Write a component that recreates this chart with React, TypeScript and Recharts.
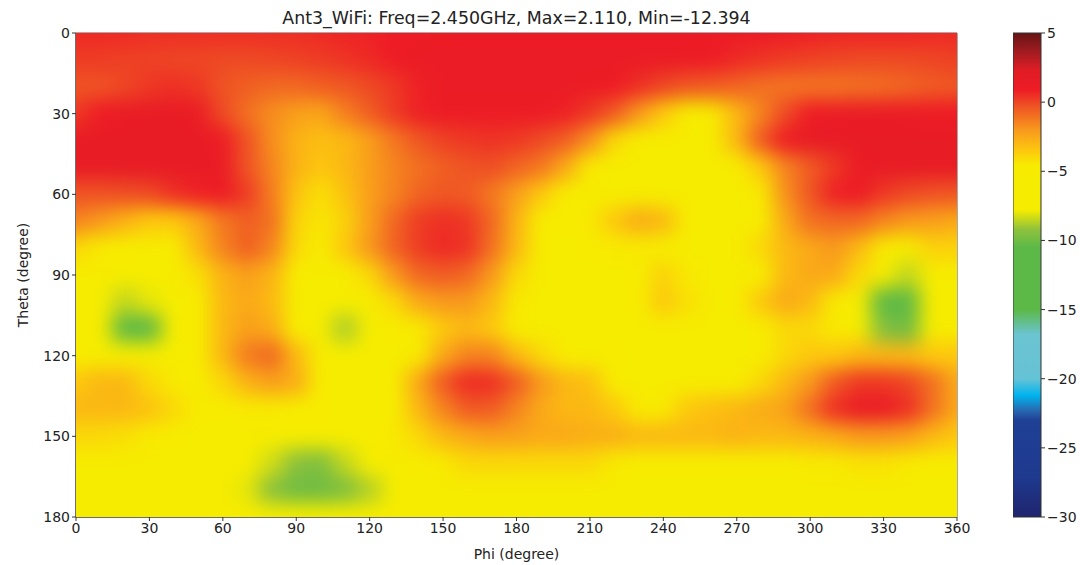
import { ScatterChart, Scatter, XAxis, YAxis, ReferenceArea, BarChart, Bar } from 'recharts';

const phiTicks = [0, 30, 60, 90, 120, 150, 180, 210, 240, 270, 300, 330, 360];
const thetaTicks = [0, 30, 60, 90, 120, 150, 180];
const colorbarTicks = [-30, -25, -20, -15, -10, -5, 0, 5];

// gain in dB, one row per theta (0..180 in 10 degree steps), one value per phi (0..360 in 10 degree steps)
const gainRows = [
  [.6, .6, .6, .5, .5, .5, .5, .5, .5, .5, .6, .7, .8, .9, 1, 1.1, 1.2, 1.2, 1.2, 1.2, 1.2, 1.2, 1.2, 1.2, 1.2, 1.2, 1.2, 1.1, 1, .9, .8, .7, .7, .7, .7, .6, .6],
  [.2, .2, .1, .1, 0, 0, -.1, -.1, 0, .1, .2, .4, .6, .9, 1.2, 1.2, 1.2, 1.2, 1.2, 1.2, 1.2, 1.2, 1.2, 1.2, 1.2, 1.1, .9, .6, .4, .2, .1, 0, -.1, -.1, -.1, 0, .1],
  [-.3, -.3, 0, .3, .5, .3, -.3, -.6, -.8, -.8, -.6, -.4, -.1, .3, .8, 1.2, 1.2, 1.2, 1.2, 1.2, 1.2, 1.1, .9, .5, 0, -.4, -.5, -.7, -1, -1.1, -1.1, -1.1, -1, -.9, -.7, -.5, -.4],
  [.3, .9, 1.3, 1.5, 1.5, 1.2, -.1, -1, -1.7, -2.2, -2.4, -1.4, -.6, .2, .8, 1, 1, 1, 1, 1, .8, .3, -.5, -2, -3.5, -4.8, -4.5, -3, -1.5, -.1, .9, 1.2, 1.3, 1.3, 1.2, 1, .9],
  [1.5, 1.5, 1.5, 1.5, 1.5, 1.5, 1, -.3, -1.7, -2.8, -3.2, -3, -2.2, -1.2, -.4, .1, .3, .4, .3, -.1, -.6, -1.8, -4, -5.5, -6, -6, -5.5, -3, -.5, 1, 1.5, 1.5, 1.5, 1.5, 1.5, 1.5, 1.5],
  [1.5, 1.5, 1.5, 1.5, 1.5, 1.5, 1.2, -.3, -1.5, -2.8, -3.4, -3, -2.2, -1.5, -1, -.6, -.3, -.2, -.7, -1.2, -2.5, -4.5, -5.5, -6, -6, -6, -6, -5.5, -3.5, -1.5, -.5, .3, 1.2, 1.5, 1.5, 1.5, 1.5],
  [-.3, -.3, -.2, -.1, .5, .8, 1, .2, -1.3, -3.3, -4.2, -3.3, -2.2, -1.5, -.7, -.4, -.5, -1.2, -2.2, -3.5, -4.8, -5.5, -5.5, -5.5, -5.5, -5.5, -5.5, -5.5, -4.5, -1.8, -.4, .8, 1, .3, -.1, -.3, -.4],
  [-1.5, -2, -2.8, -3.5, -3.5, -2.5, -1.2, -.6, -1, -3.8, -4.4, -3.8, -2.2, -.8, .2, .5, .3, -.8, -2.8, -4.8, -5.2, -4.5, -3.5, -2.6, -3, -5, -5.5, -5.5, -5, -2.5, -1, -.8, -.8, -1.5, -2, -2.2, -2.5],
  [-4, -4.5, -5.2, -5.5, -5, -3, -1.5, -.6, -1.5, -4, -4.8, -3.5, -2, -.7, .2, .6, .4, -1, -3, -5, -5.5, -5, -4.5, -4.5, -5.5, -5.5, -5.5, -5.5, -4, -3, -2.5, -2, -3, -4.5, -4.8, -3.8, -3.8],
  [-5.5, -5.5, -6, -6, -6, -4.2, -2.8, -2.2, -2.8, -5, -6, -5.5, -4, -2, -.8, -.5, -.8, -2, -4, -5.5, -6, -5.5, -5.5, -4.8, -3.8, -4.5, -5.5, -6, -5, -3, -2.5, -2.5, -4, -7.5, -8.5, -6, -5.5],
  [-6, -6, -8.5, -8, -6, -5, -3, -2.5, -3, -5.5, -6.5, -7, -6, -4, -2.5, -2, -2, -3, -4.5, -5.5, -6, -6, -6, -5, -3.5, -4.2, -5.5, -5, -3.5, -2.5, -3, -4.5, -5.5, -12, -12.4, -7, -6],
  [-6, -7, -12, -12.4, -6.5, -5.2, -3, -2.2, -2.6, -5, -6.5, -8.8, -6, -5, -4.5, -3.5, -3, -3.5, -5, -5.5, -6, -6, -6, -6, -6, -6, -6, -6, -5, -4, -4, -4.5, -6, -9.5, -10, -6.5, -6],
  [-5, -5.5, -7, -7.8, -5.8, -5, -3, -1.3, -.8, -3, -5.5, -6, -6, -5.5, -4.5, -2.5, -1.5, -1.5, -3, -4, -5, -5.5, -5, -5.5, -6, -6, -6, -6, -5, -4, -3.5, -3.5, -3, -3, -3, -3.5, -3.5],
  [-3.5, -3, -3, -4, -4.5, -5, -4, -2.8, -2.2, -2.6, -5, -6, -6, -5, -2.5, -.5, .6, .5, -.5, -2, -3, -3.2, -5, -5.5, -6, -6, -5.5, -5, -4, -3, -2, -.5, .3, .3, 0, -1, -2.5],
  [-3, -3, -3, -3.3, -4, -5, -5, -4.5, -4.5, -5, -5, -5.5, -5.5, -5, -3, -1.5, -.5, -.5, -1.5, -2.5, -3, -3, -3.5, -4.5, -4.5, -3.5, -3.2, -3, -2.6, -2.3, -1, .5, 1.3, 1.3, .5, -1, -2.5],
  [-4, -4, -4.2, -4.5, -5, -5.5, -5.5, -5.5, -5.5, -5.5, -5.5, -5.5, -5, -4.5, -4, -3, -2.5, -2.2, -2.3, -2.5, -2.5, -2.7, -2.7, -3, -3, -3, -3, -2.8, -3, -3, -2.8, -2.5, -2, -2, -2.2, -3, -3.5],
  [-5.5, -5.5, -5.5, -5.5, -5.5, -5.5, -5.8, -6.6, -8.3, -9.3, -9.6, -8.5, -7, -5.8, -5, -4.5, -4, -4, -4, -4, -4, -4, -4.5, -5, -5, -5, -5, -5, -5, -5, -4.5, -4.5, -4.3, -4.3, -4.5, -5, -5],
  [-6, -6, -6, -6, -6, -6, -7, -8, -9.3, -10, -10, -9.6, -8.7, -7.5, -5.5, -5.5, -5.5, -5.5, -5.5, -5.5, -5.5, -5.5, -5.5, -5.5, -5.5, -5.5, -5.5, -5.5, -5.5, -5.5, -5.5, -5.5, -5.5, -5.5, -5.5, -5.5, -5.5],
  [-6, -6, -6, -6, -6, -6, -6, -6, -6, -6, -6, -6, -6, -6, -6, -6, -6, -6, -6, -6, -6, -6, -6, -6, -6, -6, -6, -6, -6, -6, -6, -6, -6, -6, -6, -6, -6],
];

const colorLevels = [-30, -27, -23, -22.3, -21.2, -20, -16.8, -15, -10.5, -9.2, -7.8, -4.6, -3.5, -2, -0.2, 0.9, 2.3, 3.5, 5];
const colorHexes = ['#20246e', '#1e3a8f', '#1f4096', '#2868b0', '#00b4ee', '#66c2d6', '#6bc4d0', '#5cb947', '#5cb947', '#8fc23c', '#f5ec00', '#f7ec00', '#fdc80e', '#f8991d', '#ee4f24', '#ee1c25', '#e01c25', '#a81c22', '#651414'];

const hexToRgb = (hex: string) => [1, 3, 5].map((i) => parseInt(hex.slice(i, i + 2), 16));

function gainColor(value: number) {
  let i = 0;
  while (i < colorLevels.length - 2 && value > colorLevels[i + 1]) i++;
  const t = Math.min(1, Math.max(0, (value - colorLevels[i]) / (colorLevels[i + 1] - colorLevels[i])));
  const a = hexToRgb(colorHexes[i]);
  const b = hexToRgb(colorHexes[i + 1]);
  return `rgb(${a.map((v, k) => Math.round(v + (b[k] - v) * t)).join(',')})`;
}

const gainCells = gainRows.flatMap((row, r) => row.map((gain, c) => ({ phi: c * 10, theta: r * 10, gain })));

const plot = { left: 76, right: 957, top: 33, bottom: 517 };
const cellW = (plot.right - plot.left) / 36;
const cellH = (plot.bottom - plot.top) / 18;
const font = '"DejaVu Sans", sans-serif';
const tickStyle = { fill: '#222', fontSize: 14, fontFamily: font };

// one rect per grid value, edge cells run past the plot so the blur does not fade there
const HeatCell = (props: any) => {
  const { cx, cy, payload } = props;
  const padL = payload.phi === 0 ? 40 : 0;
  const padR = payload.phi === 360 ? 40 : 0;
  const padT = payload.theta === 0 ? 40 : 0;
  const padB = payload.theta === 180 ? 40 : 0;
  return (
    <rect
      x={cx - cellW / 2 - padL - 0.5}
      y={cy - cellH / 2 - padT - 0.5}
      width={cellW + padL + padR + 1}
      height={cellH + padT + padB + 1}
      fill={gainColor(payload.gain)}
    />
  );
};

export default function App() {
  return (
    <div style={{ position: 'absolute', left: 0, top: 0, width: 1080, height: 565, background: '#fff' }}>
      <style>{`.heat-layer { filter: url(#heatBlur); clip-path: url(#plotClip); }`}</style>
      <div style={{ position: 'absolute', left: 76, width: 881, top: 8, textAlign: 'center', fontFamily: font, fontSize: 17.4, color: '#222', whiteSpace: 'nowrap' }}>
        Ant3_WiFi: Freq=2.450GHz, Max=2.110, Min=-12.394
      </div>
      <div style={{ position: 'absolute', left: 0, top: 0 }}>
        <ScatterChart width={1000} height={565} margin={{ top: plot.top, right: 1000 - plot.right, bottom: 0, left: 26 }}>
          <defs>
            <filter id="heatBlur" x="-5%" y="-5%" width="110%" height="110%" colorInterpolationFilters="sRGB">
              <feGaussianBlur stdDeviation="9.5" />
            </filter>
            <clipPath id="plotClip" clipPathUnits="userSpaceOnUse">
              <rect x={plot.left} y={plot.top} width={plot.right - plot.left} height={plot.bottom - plot.top} />
            </clipPath>
          </defs>
          <XAxis
            type="number"
            dataKey="phi"
            domain={[0, 360]}
            ticks={phiTicks}
            interval={0}
            height={48}
            tick={tickStyle}
            tickSize={4}
            stroke="#333"
            label={{ value: 'Phi (degree)', position: 'insideBottom', offset: 6, style: tickStyle }}
          />
          <YAxis
            type="number"
            dataKey="theta"
            domain={[0, 180]}
            reversed
            ticks={thetaTicks}
            interval={0}
            width={50}
            tick={tickStyle}
            tickSize={4}
            stroke="#333"
            label={{ value: 'Theta (degree)', angle: -90, position: 'insideLeft', offset: -3, style: { ...tickStyle, textAnchor: 'middle' } }}
          />
          <Scatter data={gainCells} shape={HeatCell} className="heat-layer" isAnimationActive={false} />
          <ReferenceArea x1={0} x2={360} y1={0} y2={180} fill="none" stroke="#555" strokeWidth={1} />
        </ScatterChart>
      </div>
      <div style={{ position: 'absolute', left: 1013, top: 0 }}>
        <BarChart width={67} height={565} data={[{ name: 'gain', range: [-30, 5] }]} margin={{ top: plot.top, right: 0, bottom: 565 - plot.bottom, left: 0 }} barCategoryGap={0}>
          <defs>
            <linearGradient id="colorbarFill" x1="0" y1="1" x2="0" y2="0">
              {colorLevels.map((level, i) => (
                <stop key={level} offset={`${((level + 30) / 35) * 100}%`} stopColor={colorHexes[i]} />
              ))}
            </linearGradient>
          </defs>
          <XAxis dataKey="name" hide />
          <YAxis
            orientation="right"
            domain={[-30, 5]}
            ticks={colorbarTicks}
            interval={0}
            width={39}
            tick={tickStyle}
            tickSize={4}
            axisLine={false}
            stroke="#333"
            tickFormatter={(v: number) => String(v).replace('-', '\u2212')}
          />
          <Bar dataKey="range" fill="url(#colorbarFill)" stroke="#333" strokeWidth={1} isAnimationActive={false} />
        </BarChart>
      </div>
    </div>
  );
}
